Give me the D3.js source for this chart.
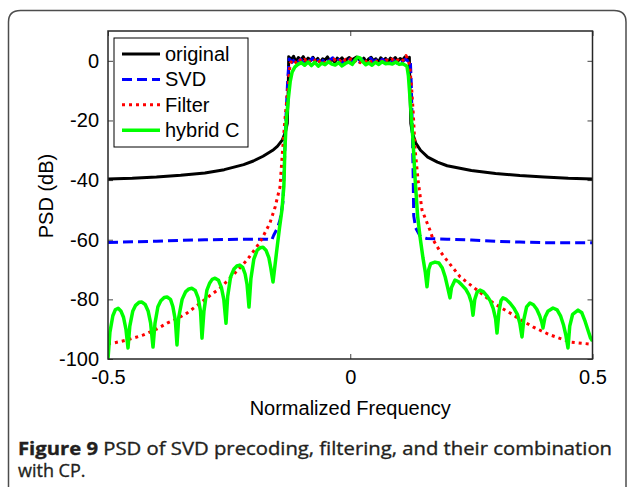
<!DOCTYPE html>
<html>
<head>
<meta charset="utf-8">
<script src="https://cdn.jsdelivr.net/npm/d3@7"></script>
<style>
body { margin: 0; background: #fff; }
svg { display: block; }
.axis text { font-family: "Liberation Sans", Arial, sans-serif; font-size: 20px; fill: #000; }
.axis line { stroke: #444; stroke-width: 1; }
.label { font-family: "Liberation Sans", Arial, sans-serif; font-size: 20px; fill: #000; }
.caption { font-family: "Open Sans", sans-serif; font-size: 18px; fill: #231f20; stroke: #231f20; stroke-width: 0.35px; }
</style>
</head>
<body>
<script>
// PSD curves: [normalized frequency, dB]
var originalData = [
	[-0.5,-39.6],[-0.45,-39.4],[-0.4,-39],[-0.35,-38.4],[-0.3,-37.6],[-0.26,-36.5],[-0.22,-34.8],
	[-0.2,-33.6],[-0.18,-32],[-0.16,-30],[-0.15,-28.6],[-0.14,-26.5],[-0.134,-24],[-0.13,-21],
	[-0.128,-10],[-0.127,1.4],[-0.122,0.3],[-0.117,1.5],[-0.112,-0.4],[-0.107,1.1],[-0.102,0.2],
	[-0.097,1.4],[-0.092,-0.3],[-0.087,0.9],[-0.082,0.1],[-0.077,1.2],[-0.072,-0.2],[-0.067,0.8],
	[-0.062,-0.6],[-0.057,0.7],[-0.052,0.3],[-0.047,1.3],[-0.042,-0.1],[-0.037,0.6],[-0.032,-0.5],
	[-0.027,0.9],[-0.022,0.2],[-0.017,1],[-0.012,-0.3],[-0.007,0.5],[-0.002,1.1],[0.003,0.2],
	[0.008,0.8],[0.013,1.3],[0.018,0.4],[0.023,-0.2],[0.028,0.9],[0.033,-0.4],[0.038,0.6],
	[0.043,1.2],[0.048,0],[0.053,0.7],[0.058,-0.5],[0.063,1],[0.068,0.1],[0.073,0.8],[0.078,-0.3],
	[0.083,0.9],[0.088,0.2],[0.093,1.1],[0.098,-0.2],[0.103,0.8],[0.108,0.3],[0.113,1.3],
	[0.118,0.2],[0.122,1.2],[0.123,-8],[0.125,-21],[0.128,-24],[0.135,-27.5],[0.145,-30],
	[0.16,-32.3],[0.18,-34],[0.2,-35.2],[0.25,-36.8],[0.3,-37.8],[0.35,-38.5],[0.4,-39],
	[0.45,-39.4],[0.5,-39.6]
];

var svdData = [
	[-0.5,-60.9],[-0.45,-60.7],[-0.4,-60.5],[-0.35,-60.2],[-0.3,-60],[-0.25,-59.9],[-0.2,-59.8],
	[-0.17,-59.8],[-0.162,-60.1],[-0.158,-58.5],[-0.15,-56],[-0.145,-53.4],[-0.139,-47.5],
	[-0.136,-35],[-0.133,-20],[-0.129,-6],[-0.126,0.6],[-0.12,-0.5],[-0.114,0.8],[-0.108,-0.2],
	[-0.102,0.5],[-0.096,-0.9],[-0.09,0.4],[-0.084,-0.3],[-0.078,0.9],[-0.072,-0.6],[-0.066,0.2],
	[-0.06,-0.8],[-0.054,0.6],[-0.048,-0.4],[-0.042,0.3],[-0.036,1],[-0.03,-0.5],[-0.024,0.4],
	[-0.018,-0.7],[-0.012,0.2],[-0.006,1.2],[0,0.3],[0.006,-0.5],[0.012,0.7],[0.018,-0.3],
	[0.024,0.5],[0.03,-0.8],[0.036,0.2],[0.042,0.9],[0.048,-0.4],[0.054,0.3],[0.06,-0.6],
	[0.066,0.5],[0.072,-0.2],[0.078,0.8],[0.084,-0.5],[0.09,0.3],[0.096,-0.7],[0.102,0.4],
	[0.108,-0.3],[0.114,0.6],[0.12,-0.2],[0.124,0.3],[0.126,-8],[0.128,-22],[0.13,-40],
	[0.131,-52],[0.135,-56],[0.145,-59],[0.158,-59.6],[0.2,-59.8],[0.25,-60.1],[0.3,-60.5],
	[0.35,-60.8],[0.4,-61],[0.45,-61],[0.5,-61]
];

var filterData = [
	[-0.5,-94.8],[-0.49,-94.7],[-0.46,-93.6],[-0.428,-92],[-0.4,-90],[-0.378,-88],[-0.355,-86.3],
	[-0.337,-84.6],[-0.31,-81.3],[-0.29,-78.8],[-0.269,-76.3],[-0.242,-71.9],[-0.213,-66.8],
	[-0.186,-60.8],[-0.166,-54.5],[-0.155,-49],[-0.145,-42.3],[-0.141,-33],[-0.135,-20],
	[-0.128,-8],[-0.124,-0.8],[-0.118,0.4],[-0.112,-0.6],[-0.106,0.7],[-0.1,-0.3],[-0.094,0.5],
	[-0.088,-0.9],[-0.082,0.2],[-0.076,-0.4],[-0.07,0.8],[-0.064,-0.2],[-0.058,0.4],[-0.052,-0.7],
	[-0.046,0.3],[-0.04,-0.5],[-0.034,0.6],[-0.028,-0.3],[-0.022,0.2],[-0.016,-0.8],[-0.01,0.5],
	[-0.004,-0.1],[0.002,0.7],[0.008,-0.4],[0.014,0.3],[0.02,-0.6],[0.026,0.4],[0.032,-0.2],
	[0.038,0.6],[0.044,-0.5],[0.05,0.2],[0.056,-0.3],[0.062,0.5],[0.068,-0.7],[0.074,0.3],
	[0.08,-0.2],[0.086,0.6],[0.092,-0.4],[0.098,0.3],[0.104,-0.5],[0.11,0.4],[0.115,1.8],
	[0.119,0.5],[0.123,-2],[0.127,-10],[0.13,-17.5],[0.134,-30],[0.14,-40],[0.148,-50],
	[0.165,-57],[0.171,-60],[0.185,-63.8],[0.2,-67],[0.227,-72.5],[0.262,-76.9],[0.295,-81.2],
	[0.33,-84.6],[0.355,-87.2],[0.377,-89.2],[0.412,-91.9],[0.454,-94.3],[0.495,-95],[0.5,-95]
];

var hybridData = [
	[-0.5,-100],[-0.496,-91],[-0.49,-85.5],[-0.485,-83.5],[-0.479,-83],[-0.473,-84],[-0.468,-86],
	[-0.463,-90],[-0.4587,-96.3],[-0.455,-89],[-0.449,-84],[-0.443,-82],[-0.436,-81],[-0.43,-80.9],
	[-0.423,-81.8],[-0.417,-84],[-0.412,-88],[-0.4071,-96],[-0.403,-88],[-0.397,-82.5],[-0.391,-80.5],
	[-0.384,-79.4],[-0.378,-79.2],[-0.371,-80],[-0.366,-82.5],[-0.361,-87],[-0.3576,-95.3],
	[-0.354,-86],[-0.347,-80],[-0.34,-77.5],[-0.333,-76.5],[-0.327,-76.3],[-0.32,-77],[-0.314,-79.5],
	[-0.309,-84],[-0.306,-93],[-0.302,-84],[-0.296,-77],[-0.29,-74.5],[-0.285,-73.3],[-0.279,-72.9],
	[-0.272,-73.6],[-0.266,-76],[-0.261,-80],[-0.2564,-88],[-0.253,-79],[-0.247,-72.5],[-0.24,-69.8],
	[-0.234,-68.8],[-0.228,-68.5],[-0.222,-69.3],[-0.217,-71.5],[-0.213,-75],[-0.209,-82.6],
	[-0.205,-73],[-0.199,-66.5],[-0.192,-63.5],[-0.186,-62.7],[-0.18,-62.5],[-0.174,-63.5],
	[-0.168,-66],[-0.164,-69.5],[-0.1594,-74.2],[-0.152,-64],[-0.146,-56],[-0.141,-50],[-0.137,-42],
	[-0.135,-30],[-0.132,-20],[-0.128,-13],[-0.124,-7],[-0.12,-3.8],[-0.114,-2],[-0.108,-1.2],
	[-0.101,-0.6],[-0.094,-1.5],[-0.087,-0.4],[-0.08,-1.6],[-0.073,-0.5],[-0.066,-1.8],[-0.059,-0.8],
	[-0.052,-1.3],[-0.045,-0.3],[-0.038,-1.1],[-0.031,-1.4],[-0.024,-0.6],[-0.017,-1.7],[-0.01,-0.9],
	[-0.003,-0.4],[0.004,-1.2],[0.01,0.2],[0.015,1.2],[0.02,1],[0.026,-0.3],[0.032,-1.3],[0.038,-0.7],
	[0.045,-1.5],[0.052,-0.5],[0.059,-1.2],[0.066,-0.3],[0.073,-1],[0.08,-0.8],[0.087,-1.1],
	[0.094,-0.4],[0.101,-1.2],[0.108,-1],[0.113,-1.4],[0.117,-1.8],[0.12,-5],[0.124,-14],
	[0.1295,-26.6],[0.134,-40],[0.139,-52],[0.144,-59],[0.15,-66],[0.155,-71],[0.1584,-75.8],
	[0.162,-70],[0.166,-68],[0.1749,-67.5],[0.183,-67.8],[0.19,-69.5],[0.196,-72.5],[0.201,-76],
	[0.2059,-79.5],[0.209,-76],[0.2162,-73.5],[0.223,-74],[0.231,-75.3],[0.238,-76.5],[0.245,-78.5],
	[0.25,-81],[0.2534,-85.3],[0.257,-80],[0.262,-77.5],[0.2678,-76.9],[0.275,-77.5],[0.282,-78.8],
	[0.289,-80.5],[0.295,-83],[0.3,-86.5],[0.3029,-91.3],[0.307,-84],[0.311,-80.5],[0.3153,-79.5],
	[0.322,-80],[0.33,-81.3],[0.338,-83],[0.345,-85],[0.35,-88],[0.3545,-92.6],[0.358,-87],
	[0.364,-82.5],[0.371,-81.2],[0.378,-81.8],[0.385,-83.3],[0.391,-85.5],[0.395,-87.5],
	[0.3978,-89.6],[0.402,-86],[0.408,-84],[0.4185,-82.9],[0.427,-83.5],[0.434,-85.5],[0.44,-88.5],
	[0.445,-92],[0.4494,-96.3],[0.453,-89],[0.459,-85],[0.4701,-83.6],[0.478,-84.5],[0.485,-87.5],
	[0.491,-90.5],[0.496,-93],[0.5,-94]
];

var seriesNames = ["original", "SVD", "Filter", "hybrid C"];
var xTicks = [-0.5, 0, 0.5];
var yTicks = [0, -20, -40, -60, -80, -100];

var w = 627;
var h = 487;
var pLeft = 108, pRight = 592.5, pTop = 31, pBottom = 359;

var svg = d3.select("body")
	.append("svg")
	.attr("width", w)
	.attr("height", h);

// outer panel frame (rounded, open at the bottom)
svg.append("path")
	.attr("d", "M8.5," + (h + 5) + " V22 Q8.5,10.5 20.5,10.5 H614 Q626,10.5 626,22 V" + (h + 5))
	.attr("fill", "none")
	.attr("stroke", "#4d4d4d")
	.attr("stroke-width", 1.5);

var xScale = d3.scaleLinear()
	.domain([-0.5, 0.5])
	.range([pLeft, pRight]);

var yScale = d3.scaleLinear()
	.domain([-100, 10])
	.range([pBottom, pTop]);

svg.append("defs").append("clipPath")
	.attr("id", "plotclip")
	.append("rect")
	.attr("x", pLeft)
	.attr("y", pTop)
	.attr("width", pRight - pLeft)
	.attr("height", pBottom - pTop);

// plain hyphen minus like MATLAB
var fmt = d => String(d);

// axes, MATLAB style ticks pointing inwards
svg.append("g")
	.attr("class", "axis")
	.attr("transform", "translate(0," + pBottom + ")")
	.call(d3.axisBottom(xScale).tickValues(xTicks).tickSizeInner(-5).tickSizeOuter(0).tickPadding(11).tickFormat(fmt))
	.call(g => g.select(".domain").remove());

svg.append("g")
	.attr("class", "axis")
	.attr("transform", "translate(0," + pTop + ")")
	.call(d3.axisTop(xScale).tickValues(xTicks).tickSizeInner(-5).tickSizeOuter(0).tickFormat(""))
	.call(g => g.select(".domain").remove());

svg.append("g")
	.attr("class", "axis")
	.attr("transform", "translate(" + pLeft + ",0)")
	.call(d3.axisLeft(yScale).tickValues(yTicks).tickSizeInner(-5).tickSizeOuter(0).tickPadding(9).tickFormat(fmt))
	.call(g => g.select(".domain").remove());

svg.append("g")
	.attr("class", "axis")
	.attr("transform", "translate(" + pRight + ",0)")
	.call(d3.axisRight(yScale).tickValues(yTicks).tickSizeInner(-5).tickSizeOuter(0).tickFormat(""))
	.call(g => g.select(".domain").remove());

svg.selectAll(".axis").attr("font-family", null).attr("font-size", null);

var line = d3.line()
	.x(d => xScale(d[0]))
	.y(d => yScale(d[1]));

var styles = [
	{data: originalData, color: "#000000", width: 3, dash: null},
	{data: svdData, color: "#0000ff", width: 3, dash: "10,5"},
	{data: filterData, color: "#ff0000", width: 3, dash: "3,4"},
	{data: hybridData, color: "#00ff00", width: 3.5, dash: null}
];

var plot = svg.append("g").attr("clip-path", "url(#plotclip)");

styles.forEach(s => {
	plot.append("path")
		.datum(s.data)
		.attr("d", line)
		.attr("fill", "none")
		.attr("stroke", s.color)
		.attr("stroke-width", s.width)
		.attr("stroke-dasharray", s.dash)
		.attr("stroke-linejoin", "round");
});

// plot box
svg.append("rect")
	.attr("x", pLeft)
	.attr("y", pTop)
	.attr("width", pRight - pLeft)
	.attr("height", pBottom - pTop)
	.attr("fill", "none")
	.attr("stroke", "#262626")
	.attr("stroke-width", 1.5);

//Create legend
svg.append("rect")
	.attr("x", 114)
	.attr("y", 38)
	.attr("width", 134)
	.attr("height", 109)
	.attr("fill", "#fff")
	.attr("stroke", "#000")
	.attr("stroke-width", 1);

seriesNames.forEach((name, i) => {
	var ly = 54 + i * 25.4;
	svg.append("line")
		.attr("x1", 122)
		.attr("x2", 160)
		.attr("y1", ly)
		.attr("y2", ly)
		.attr("stroke", styles[i].color)
		.attr("stroke-width", styles[i].width)
		.attr("stroke-dasharray", styles[i].dash);
	svg.append("text")
		.text(name)
		.attr("class", "label")
		.attr("x", 165)
		.attr("y", ly + 7);
});

svg.append("text")
	.text("Normalized Frequency")
	.attr("class", "label")
	.attr("text-anchor", "middle")
	.attr("x", (pLeft + pRight) / 2)
	.attr("y", 415);

svg.append("text")
	.text("PSD (dB)")
	.attr("class", "label")
	.attr("text-anchor", "middle")
	.attr("transform", "rotate(-90)")
	.attr("x", -196)
	.attr("y", 53);

// figure caption
var cap1 = svg.append("text")
	.attr("class", "caption")
	.attr("x", 18)
	.attr("y", 455)
	.attr("textLength", 594)
	.attr("lengthAdjust", "spacingAndGlyphs");
cap1.append("tspan").attr("font-weight", "bold").text("Figure 9");
cap1.append("tspan").text(" PSD of SVD precoding, filtering, and their combination");

svg.append("text")
	.attr("class", "caption")
	.attr("x", 18)
	.attr("y", 477)
	.text("with CP.");
</script>
</body>
</html>
